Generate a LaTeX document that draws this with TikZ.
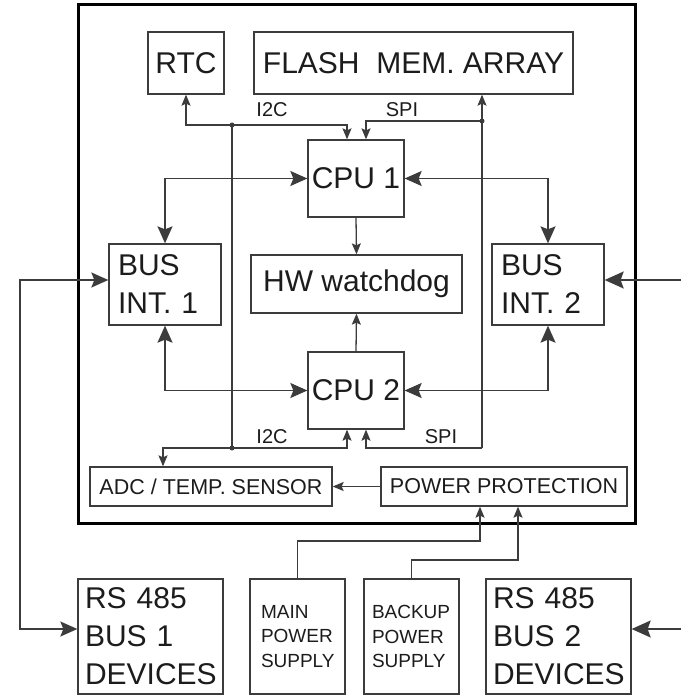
\documentclass[tikz,border=0pt]{standalone}
\usepackage{fontspec}
\setmainfont{Liberation Sans}
\usetikzlibrary{arrows.meta,positioning}
\definecolor{linegray}{HTML}{3C3C3C}
\definecolor{inkgray}{HTML}{1C1C1C}

\begin{document}
\begin{tikzpicture}[x=1pt,y=1pt]
        \tikzstyle{every node}+=[inner sep=0pt,text=inkgray]
        \tikzstyle{blk}=[draw=linegray,line width=1.3pt,rectangle]
        \tikzstyle{big}=[font=\fontsize{30}{38}\selectfont]
        \tikzstyle{mid}=[font=\fontsize{21.5}{26}\selectfont]
        \tikzstyle{small}=[font=\fontsize{20}{24}\selectfont]
        \tikzstyle{supply}=[font=\fontsize{19}{24.5}\selectfont]
        \tikzstyle{wire}=[draw=linegray,line width=1.3pt]
        \tikzstyle{bus}=[draw=linegray,line width=1.6pt]
        \tikzstyle{bigboth}=[{Stealth[length=17pt,width=15pt,inset=3pt]}-{Stealth[length=17pt,width=15pt,inset=3pt]}]
        \tikzstyle{bigend}=[-{Stealth[length=19pt,width=17pt,inset=3pt]}]
        \tikzstyle{smallboth}=[{Stealth[length=11pt,width=9pt,inset=2pt]}-{Stealth[length=11pt,width=9pt,inset=2pt]}]
        \tikzstyle{smallend}=[-{Stealth[length=11pt,width=9pt,inset=2pt]}]
        \useasboundingbox (0,0) rectangle (681,-698);
        \fill [white] (0,0) rectangle (681,-698);
        \node [draw=black,line width=3pt,minimum width=557pt,minimum height=518pt] (board) at (356.5,-264) {};
        \node [blk,big,minimum width=76pt,minimum height=62pt] (rtc) at (186,-63) {RTC};
        \node [blk,big,minimum width=319pt,minimum height=62pt] (flash) at (413.5,-63) {FLASH\ \ MEM. ARRAY};
        \node [blk,big,minimum width=96pt,minimum height=77pt] (cpu1) at (356,-178.5) {CPU 1};
        \node [blk,big,minimum width=211pt,minimum height=58pt] (wdog) at (356.5,-284) {HW watchdog};
        \node [blk,big,minimum width=96pt,minimum height=77pt] (cpu2) at (356,-390.5) {CPU 2};
        \node [blk,big,minimum height=81pt,inner xsep=9pt,text width=94pt,align=left] (bus1) at (165,-284.5) {BUS\\INT. 1};
        \node [blk,big,minimum height=81pt,inner xsep=9pt,text width=94pt,align=left] (bus2) at (548,-284.5) {BUS\\INT. 2};
        \node [blk,mid,minimum width=242pt,minimum height=39pt] (adc) at (211,-486.5) {ADC / TEMP. SENSOR};
        \node [blk,mid,minimum width=246pt,minimum height=39pt] (prot) at (504,-486.5) {POWER PROTECTION};
        \node [blk,big,minimum height=115pt,inner xsep=7pt,text width=131pt,align=left] (rs1) at (150.5,-636.5) {RS 485\\BUS 1\\DEVICES};
        \node [blk,supply,minimum height=115pt,inner xsep=11pt,text width=73pt,align=left] (mainps) at (297.5,-636.5) {MAIN\\POWER\\SUPPLY};
        \node [blk,supply,minimum height=115pt,inner xsep=8pt,text width=79pt,align=left] (backps) at (411.5,-636.5) {BACKUP\\POWER\\SUPPLY};
        \node [blk,big,minimum height=115pt,inner xsep=7pt,text width=131pt,align=left] (rs2) at (558.5,-636.5) {RS 485\\BUS 2\\DEVICES};
        \draw [bus,bigboth] (cpu1.west) -| (bus1.north);
        \draw [bus,bigboth] (cpu1.east) -| (bus2.north);
        \draw [bus,bigboth] (cpu2.west) -| (bus1.south);
        \draw [bus,bigboth] (cpu2.east) -| (bus2.south);
        \draw [wire,smallend] (cpu1.south) -- (wdog.north);
        \draw [wire,smallend] (cpu2.north) -- (wdog.south);
        \coordinate (i2ctop) at (232,-125);
        \coordinate (i2cbot) at (232,-448);
        \draw [wire,smallboth] (rtc.south) |- ([xshift=-9pt]cpu1.north |- i2ctop) -- ([xshift=-9pt]cpu1.north);
        \draw [wire] (i2ctop) -- (i2cbot);
        \draw [wire,smallboth] ([xshift=-48pt]adc.north) |- ([xshift=-9pt]cpu2.south |- i2cbot) -- ([xshift=-9pt]cpu2.south);
        \fill [linegray] (i2ctop) circle (2.5);
        \fill [linegray] (i2cbot) circle (2.5);
        \coordinate (spitop) at (482,-121);
        \coordinate (spibot) at (482,-448);
        \draw [wire,smallend] (spibot) -- (flash.south -| spitop);
        \draw [wire,smallend] (spitop) -| ([xshift=10pt]cpu1.north);
        \draw [wire,smallend] (spibot) -| ([xshift=10pt]cpu2.south);
        \fill [linegray] (spitop) circle (2.5);
        \node [small] (i2clbl1) at (272,-110) {I2C};
        \node [small] (spilbl1) at (402,-110) {SPI};
        \node [small] (i2clbl2) at (272,-437) {I2C};
        \node [small] (spilbl2) at (441,-437) {SPI};
        \draw [wire,smallend] (prot.west) -- (adc.east);
        \coordinate (mainbend) at (480,-541);
        \coordinate (backbend) at (518,-560);
        \draw [wire,smallend] (mainps.north) |- (mainbend) -- (mainbend |- prot.south);
        \draw [wire,smallend] (backps.north) |- (backbend) -- (backbend |- prot.south);
        \coordinate (lefttop) at (20,-280);
        \coordinate (leftbot) at (20,-629);
        \draw [bus,bigboth] (bus1.west |- lefttop) -- (lefttop) -- (leftbot) -- (rs1.west |- leftbot);
        \coordinate (righttop) at (681,-280);
        \coordinate (rightbot) at (681,-629);
        \draw [bus,bigend] (righttop) -- (bus2.east |- righttop);
        \draw [bus,bigend] (rightbot) -- (rs2.east |- rightbot);
      \end{tikzpicture}
\end{document}
